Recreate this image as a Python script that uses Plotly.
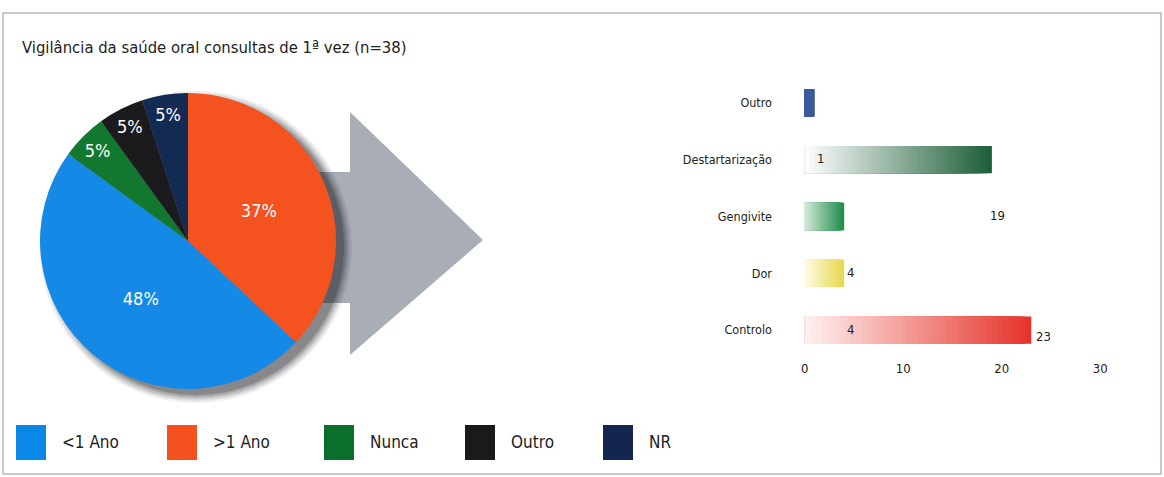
import plotly.graph_objects as go

W, H = 1164, 477
def X(px): return px / W
def Y(py): return 1 - py / H

FONT = "Liberation Sans Narrow, DejaVu Sans Condensed, Arial Narrow, sans-serif"

# ---- data ----
title_text = "Vigilância da saúde oral consultas de 1ª vez (n=38)"

pie_labels = [">1 Ano", "<1 Ano", "Nunca", "Outro", "NR"]
pie_values = [37, 48, 5, 5, 5]
pie_colors = ["#f4521f", "#1589e6", "#13782f", "#1b1b1d", "#132a52"]

legend_labels = ["<1 Ano", ">1 Ano", "Nunca", "Outro", "NR"]
legend_colors = ["#0a88e8", "#f4511e", "#0b6e2a", "#1a1a1a", "#12264f"]

bar_cats = ["Outro", "Destartarização", "Gengivite", "Dor", "Controlo"]
bar_values = [1, 19, 4, 4, 23]
bar_light = ["#3d5a9c", "#ffffff", "#d3e9da", "#fffbe6", "#fff2f0"]
bar_dark = ["#3d5a9c", "#1b5e37", "#1d8a45", "#e6d84a", "#e5322a"]

x_ticks = [0, 10, 20, 30]

# ---- helpers ----
def hex2rgb(h):
    h = h.lstrip("#")
    return tuple(int(h[i:i + 2], 16) for i in (0, 2, 4))

def mix(c1, c2, t):
    a, b = hex2rgb(c1), hex2rgb(c2)
    return "rgb(%d,%d,%d)" % tuple(round(a[i] + (b[i] - a[i]) * t) for i in range(3))

fig = go.Figure()

# pie
fig.add_trace(go.Pie(
    labels=pie_labels, values=pie_values, sort=False, direction="clockwise",
    rotation=0, marker=dict(colors=pie_colors, line=dict(width=0)),
    textinfo="percent", texttemplate="%{percent:.0%}", textposition="inside",
    insidetextorientation="horizontal",
    textfont=dict(family=FONT, size=18, color="white"),
    domain=dict(x=[X(40), X(336)], y=[Y(389), Y(93)]),
    showlegend=False, hoverinfo="label+percent",
))

# gradient bars via overlaid bars of decreasing length
K = 40
for j in range(K):
    frac = (K - j) / K
    tmid = (K - j - 0.5) / K
    fig.add_trace(go.Bar(
        y=bar_cats, x=[v * frac for v in bar_values], orientation="h",
        marker=dict(color=[mix(l, d, tmid) for l, d in zip(bar_light, bar_dark)],
                    line=dict(width=0)),
        width=0.48, showlegend=False, hoverinfo="skip",
        xaxis="x", yaxis="y",
    ))

# value labels (placed as in the reference)
n = len(bar_cats)
for i, v in enumerate(bar_values):
    last = i + 1 >= n
    row = bar_cats[i] if last else bar_cats[i + 1]
    fig.add_annotation(x=v, y=row, xref="x", yref="y", text=str(v),
                       showarrow=False, xanchor="center", yanchor="middle",
                       xshift=(12 if last else 6),
                       yshift=(-6 if last else 1),
                       font=dict(family=FONT, size=13, color="#222"))

shapes = []
# frame
shapes.append(dict(type="rect", xref="paper", yref="paper",
                   x0=X(3), x1=X(1161), y0=Y(474), y1=Y(13),
                   line=dict(color="#b4b8bd", width=1.5), layer="below"))
# arrow (stem + head)
shapes.append(dict(type="path", xref="paper", yref="paper",
                   path="M %f,%f L %f,%f L %f,%f L %f,%f L %f,%f L %f,%f L %f,%f Z" % (
                       X(300), Y(172), X(350), Y(172), X(350), Y(112), X(483), Y(240),
                       X(350), Y(355), X(350), Y(303), X(300), Y(303)),
                   fillcolor="#a9aeb6", line=dict(width=0), layer="below"))
# pie drop shadow
cx, cy, r = 188, 241, 148
for k, (grow, op) in enumerate([(8, 0.07), (6, 0.09), (4, 0.12), (2, 0.16), (0, 0.2)]):
    rr = r + grow
    shapes.append(dict(type="circle", xref="paper", yref="paper",
                       x0=X(cx + 8 - rr), x1=X(cx + 8 + rr),
                       y0=Y(cy + 6 + rr), y1=Y(cy + 6 - rr),
                       fillcolor="rgba(20,20,25,%f)" % op, line=dict(width=0),
                       layer="below"))

# manual legend
leg_sq_x = [16, 167, 324, 465, 603]
for lx, lab, col in zip(leg_sq_x, legend_labels, legend_colors):
    shapes.append(dict(type="rect", xref="paper", yref="paper",
                       x0=X(lx), x1=X(lx + 30), y0=Y(460), y1=Y(425),
                       fillcolor=col, line=dict(width=0)))
    fig.add_annotation(x=X(lx + 44), y=Y(442), xref="paper", yref="paper",
                       text=lab, showarrow=False, xanchor="left", yanchor="middle",
                       font=dict(family=FONT, size=17, color="#222"))

fig.update_layout(
    width=W, height=H, margin=dict(l=0, r=0, t=0, b=0),
    paper_bgcolor="white", plot_bgcolor="rgba(0,0,0,0)",
    barmode="overlay", bargap=0.5,
    shapes=shapes,
    title=dict(text=title_text, x=X(22), xanchor="left", y=Y(47), yanchor="middle",
               font=dict(family=FONT, size=16.5, color="#222")),
    xaxis=dict(domain=[X(790), X(1115)], range=[-1.5, 31.5], tickvals=x_ticks,
               showgrid=False, zeroline=False, showline=False, ticks="",
               tickfont=dict(family=FONT, size=13, color="#222"),
               anchor="y", fixedrange=True),
    yaxis=dict(domain=[Y(358.5), Y(74.5)], autorange="reversed", type="category",
               showgrid=False, zeroline=False, showline=False, ticks="",
               ticklabelstandoff=17,
               tickfont=dict(family=FONT, size=12.5, color="#222"),
               anchor="x", fixedrange=True),
    uniformtext=dict(minsize=18, mode="show"),
)

fig.write_html("out.html")
